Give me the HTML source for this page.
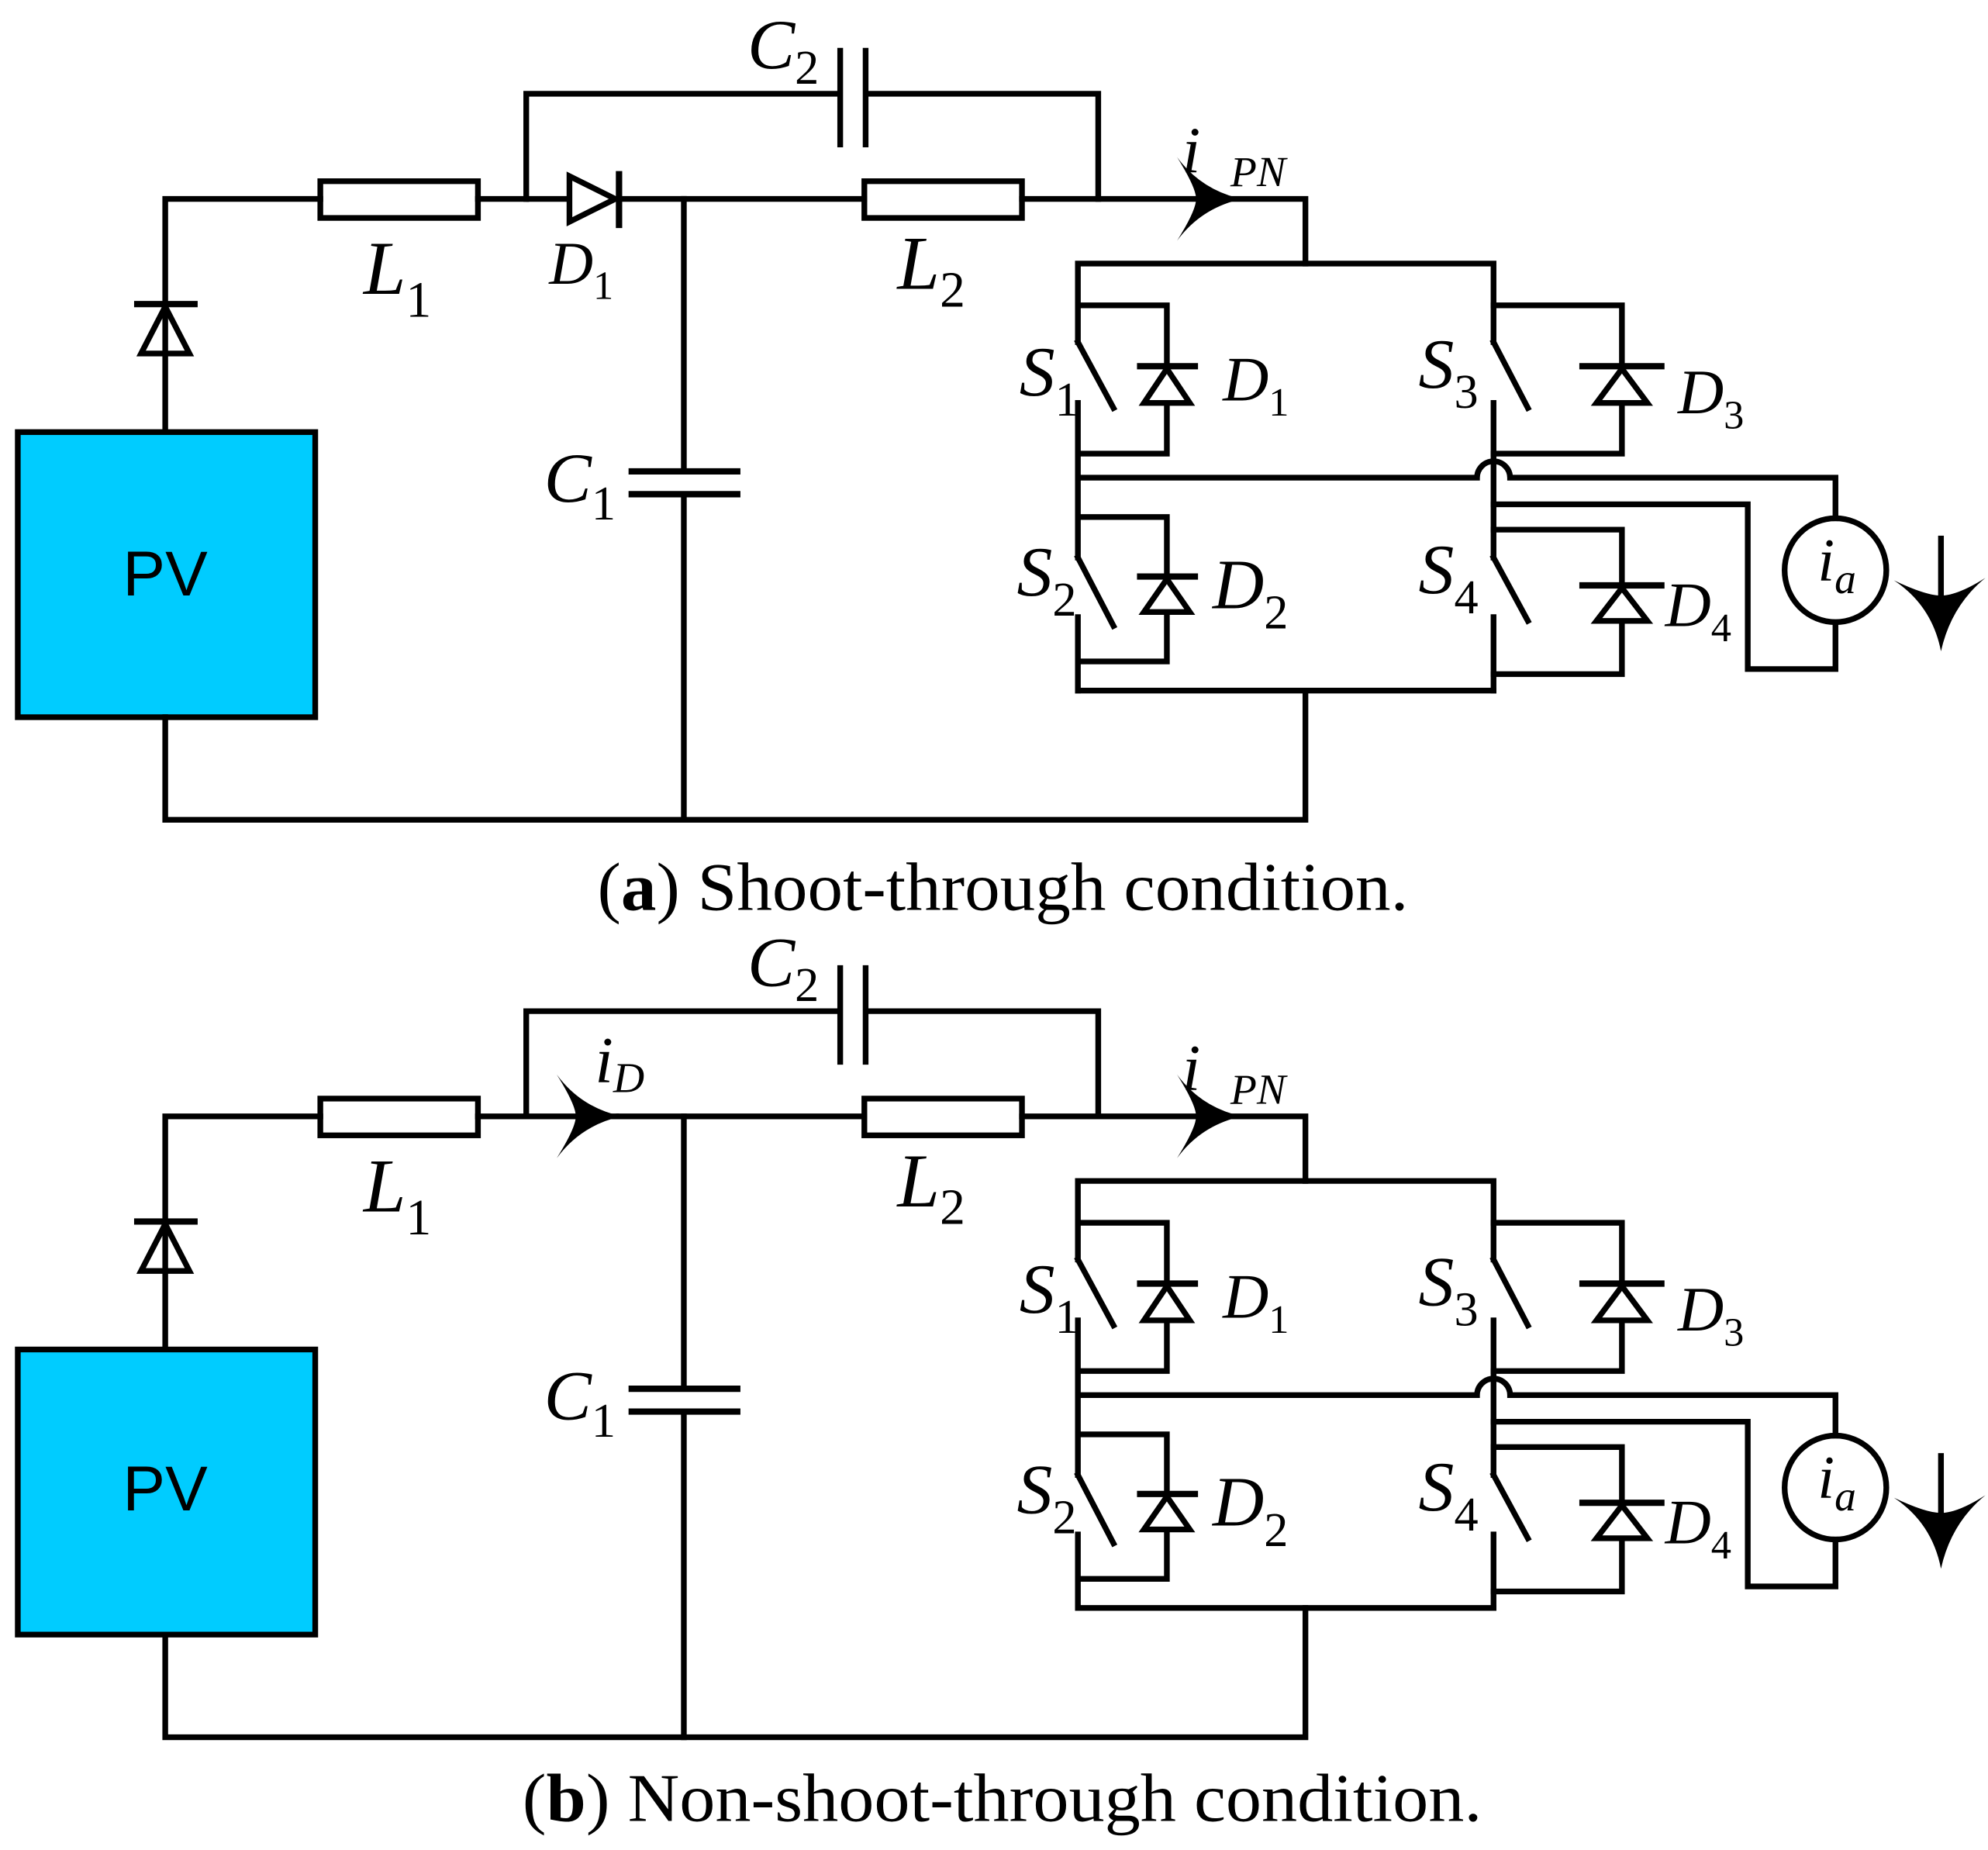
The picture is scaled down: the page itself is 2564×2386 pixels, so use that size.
<!DOCTYPE html>
<html><head><meta charset="utf-8"><style>
html,body{margin:0;padding:0;background:#fff;}
svg{display:block;}
.t{font-family:"Liberation Serif",serif;font-style:italic;fill:#000;}
.s{font-style:normal;}
</style></head><body>
<svg width="2564" height="2386" viewBox="0 0 1564 1460" preserveAspectRatio="none" xmlns="http://www.w3.org/2000/svg">
<defs>
<g id="ckt" fill="none" stroke="#000" stroke-width="4.5" stroke-linecap="square">
  <polyline points="130,341 130,157 252,157"/>
  <rect x="252" y="143" width="124" height="29"/>
  <line x1="376" y1="157" x2="414" y2="157"/>
  <line x1="487" y1="157" x2="680" y2="157"/>
  <rect x="680" y="143" width="124" height="29"/>
  <polyline points="804,157 1027,157 1027,208"/>
  <polyline points="414,157 414,74 660,74"/>
  <polyline points="682,74 864,74 864,157"/>
  <line x1="661" y1="40" x2="661" y2="114"/>
  <line x1="681" y1="40" x2="681" y2="114"/>
  <line x1="108" y1="240" x2="153" y2="240" stroke-width="5"/>
  <polygon points="130,242 111,279 149,279"/>
  <rect x="14" y="341" width="234" height="225" fill="#00ccff"/>
  <polyline points="130,566 130,647 1027,647 1027,545"/>
  <polyline points="538,157 538,372"/>
  <line x1="497" y1="372" x2="580" y2="372" stroke-width="5"/>
  <line x1="497" y1="390" x2="580" y2="390" stroke-width="5"/>
  <line x1="538" y1="390" x2="538" y2="647"/>
  <polyline points="848,270 848,208 1175,208 1175,270"/>
  <polyline points="848,545 1175,545"/>
  <line x1="848" y1="270" x2="876" y2="322"/>
  <line x1="848" y1="318" x2="848" y2="440"/>
  <polyline points="848,241 918,241 918,358 848,358"/>
  <line x1="897" y1="289" x2="940" y2="289" stroke-width="5"/>
  <polygon points="918,291 900,318 936,318" fill="#fff"/>
  <line x1="848" y1="440" x2="876" y2="494"/>
  <line x1="848" y1="487" x2="848" y2="545"/>
  <polyline points="848,408 918,408 918,522 848,522"/>
  <line x1="897" y1="455" x2="940" y2="455" stroke-width="5"/>
  <polygon points="918,457 900,483 936,483" fill="#fff"/>
  <line x1="1175" y1="270" x2="1202" y2="322"/>
  <line x1="1175" y1="318" x2="1175" y2="440"/>
  <polyline points="1175,241 1276,241 1276,358 1175,358"/>
  <line x1="1245" y1="289" x2="1307" y2="289" stroke-width="5"/>
  <polygon points="1276,291 1256,318 1296,318" fill="#fff"/>
  <line x1="1175" y1="440" x2="1202" y2="490"/>
  <line x1="1175" y1="487" x2="1175" y2="545"/>
  <polyline points="1175,418 1276,418 1276,532 1175,532"/>
  <line x1="1245" y1="462" x2="1307" y2="462" stroke-width="5"/>
  <polygon points="1276,464 1256,490 1296,490" fill="#fff"/>
  <path d="M848,377 L1162,377 A13,13 0 0 1 1188,377 L1444,377 L1444,409"/>
  <ellipse cx="1444" cy="450" rx="40" ry="41"/>
  <polyline points="1444,491 1444,528 1375,528 1375,398 1175,398"/>
  <line x1="1527" y1="425" x2="1527" y2="475"/>
  <path d="M1527,514 Q1520,478 1490,458 Q1515,470 1527,470 Q1540,470 1562,456 Q1535,478 1527,514Z" fill="#000" stroke="none"/>
  <path d="M977,157 Q945,150 926,124 Q941,148 941,157 Q941,166 926,190 Q945,164 977,157Z" fill="#000" stroke="none"/>
</g>
</defs>

<use href="#ckt"/>
<g stroke="#000" stroke-width="4.5" fill="#fff">
  <line x1="414" y1="157" x2="448" y2="157"/>
  <polygon points="448,139 448,175 484,157"/>
  <line x1="487" y1="135" x2="487" y2="180" stroke-width="5"/>
</g>

<g transform="translate(0,724)">
  <use href="#ckt"/>
  <line x1="414" y1="157" x2="487" y2="157" stroke="#000" stroke-width="4.5"/>
  <path d="M489,157 Q457,150 438,124 Q453,148 453,157 Q453,166 438,190 Q457,164 489,157Z" fill="#000"/>
</g>

<g class="t">
  <text x="588" y="54" font-size="56">C<tspan class="s" font-size="38" dy="12">2</tspan></text>
  <text x="286" y="232" font-size="60">L<tspan class="s" font-size="40" dy="18">1</tspan></text>
  <text x="432" y="224" font-size="48">D<tspan class="s" font-size="32" dy="12">1</tspan></text>
  <text x="706" y="228" font-size="60">L<tspan class="s" font-size="40" dy="14">2</tspan></text>
  <text x="428" y="396" font-size="56">C<tspan class="s" font-size="38" dy="14">1</tspan></text>
  <text x="930" y="136" font-size="52">i</text><text x="968" y="147" font-size="34">PN</text>
  <text x="802" y="312" font-size="56">S<tspan class="s" font-size="38" dy="16">1</tspan></text>
  <text x="962" y="316" font-size="50">D<tspan class="s" font-size="32" dy="12">1</tspan></text>
  <text x="1116" y="306" font-size="56">S<tspan class="s" font-size="38" dy="16">3</tspan></text>
  <text x="1320" y="326" font-size="50">D<tspan class="s" font-size="32" dy="12">3</tspan></text>
  <text x="800" y="470" font-size="56">S<tspan class="s" font-size="38" dy="16">2</tspan></text>
  <text x="954" y="480" font-size="56">D<tspan class="s" font-size="38" dy="16">2</tspan></text>
  <text x="1116" y="468" font-size="56">S<tspan class="s" font-size="38" dy="16">4</tspan></text>
  <text x="1310" y="494" font-size="50">D<tspan class="s" font-size="32" dy="12">4</tspan></text>
  <text x="1430" y="458" font-size="48">i<tspan font-size="34" dy="10">a</tspan></text>
</g>
<text x="130" y="470" text-anchor="middle" font-family="Liberation Sans, sans-serif" font-size="50">PV</text>

<g class="t" transform="translate(0,724)">
  <text x="588" y="54" font-size="56">C<tspan class="s" font-size="38" dy="12">2</tspan></text>
  <text x="286" y="232" font-size="60">L<tspan class="s" font-size="40" dy="18">1</tspan></text>
  <text x="468" y="130" font-size="52">i<tspan font-size="34" dy="8">D</tspan></text>
  <text x="706" y="228" font-size="60">L<tspan class="s" font-size="40" dy="14">2</tspan></text>
  <text x="428" y="396" font-size="56">C<tspan class="s" font-size="38" dy="14">1</tspan></text>
  <text x="930" y="136" font-size="52">i</text><text x="968" y="147" font-size="34">PN</text>
  <text x="802" y="312" font-size="56">S<tspan class="s" font-size="38" dy="16">1</tspan></text>
  <text x="962" y="316" font-size="50">D<tspan class="s" font-size="32" dy="12">1</tspan></text>
  <text x="1116" y="306" font-size="56">S<tspan class="s" font-size="38" dy="16">3</tspan></text>
  <text x="1320" y="326" font-size="50">D<tspan class="s" font-size="32" dy="12">3</tspan></text>
  <text x="800" y="470" font-size="56">S<tspan class="s" font-size="38" dy="16">2</tspan></text>
  <text x="954" y="480" font-size="56">D<tspan class="s" font-size="38" dy="16">2</tspan></text>
  <text x="1116" y="468" font-size="56">S<tspan class="s" font-size="38" dy="16">4</tspan></text>
  <text x="1310" y="494" font-size="50">D<tspan class="s" font-size="32" dy="12">4</tspan></text>
  <text x="1430" y="458" font-size="48">i<tspan font-size="34" dy="10">a</tspan></text>
</g>
<text x="130" y="1192" text-anchor="middle" font-family="Liberation Sans, sans-serif" font-size="50">PV</text>

<text x="470" y="718" textLength="638" lengthAdjust="spacingAndGlyphs" font-family="Liberation Serif, serif" font-size="54">(<tspan font-weight="bold">a</tspan>) Shoot-through condition.</text>
<text x="411" y="1437" textLength="755" lengthAdjust="spacingAndGlyphs" font-family="Liberation Serif, serif" font-size="54">(<tspan font-weight="bold">b</tspan>) Non-shoot-through condition.</text>
</svg>
</body></html>
